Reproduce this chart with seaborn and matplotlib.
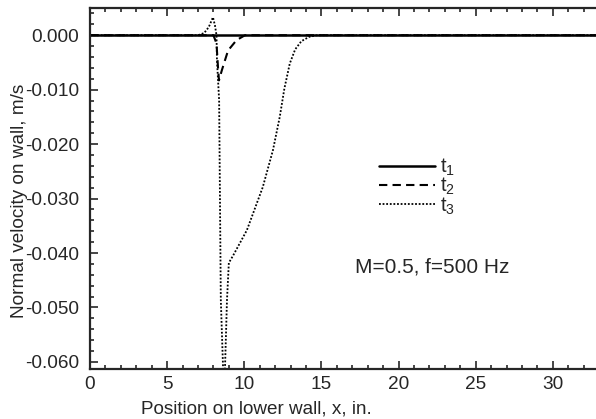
import numpy as np
import pandas as pd
import seaborn as sns
import matplotlib
matplotlib.use("Agg")
import matplotlib.pyplot as plt
from matplotlib.ticker import MultipleLocator

# ---- data ----
t1_x = [0.0, 32.8]
t1_y = [0.0, 0.0]

t2_x = [0.0, 7.6, 8.0, 8.2, 8.3, 8.36, 8.55, 8.95, 9.5, 10.05, 32.8]
t2_y = [0.0, 0.0, 0.0, -0.0015, -0.006, -0.0083, -0.0064, -0.0028, -0.0009, 0.0, 0.0]

t3_x = [0.0, 7.0, 7.4, 7.7, 7.97, 8.1, 8.2, 8.23, 8.37, 8.48, 8.63, 8.75,
        8.88, 9.0, 9.27, 10.17, 11.2, 11.86, 12.3, 12.6, 12.95, 13.3, 13.7, 14.2, 14.7, 32.8]
t3_y = [0.0, 0.0, 0.0004, 0.0015, 0.0033, 0.0018, 0.0, -0.0046, -0.0119, -0.0486, -0.0615, -0.0612,
        -0.0486, -0.0418, -0.0405, -0.0358, -0.0279, -0.0211, -0.015, -0.0098, -0.0052, -0.0026,
        -0.0011, -0.0003, 0.0, 0.0]

labels = ["t$_1$", "t$_2$", "t$_3$"]
styles = ["-", (0, (4, 2.5)), (0, (1, 1))]
x_ticks = [0, 5, 10, 15, 20, 25, 30]
y_ticks = [0.0, -0.01, -0.02, -0.03, -0.04, -0.05, -0.06]
y_ticklabels = ["0.000", "-0.010", "-0.020", "-0.030", "-0.040", "-0.050", "-0.060"]

sns.set_style("ticks")
plt.rcParams["font.family"] = ["Liberation Sans", "DejaVu Sans"]
plt.rcParams["mathtext.fontset"] = "custom"
plt.rcParams["mathtext.rm"] = "Liberation Sans"
plt.rcParams["mathtext.it"] = "Liberation Sans"

fig = plt.figure(figsize=(5.96, 4.19), dpi=100)
ax = fig.add_axes([90 / 596, 50 / 419, 1 - 90 / 596, 361 / 419])

series = [(t1_x, t1_y), (t2_x, t2_y), (t3_x, t3_y)]
widths = [1.8, 1.5, 1.3]
for (xs, ys), lab, ls, lw in zip(series, labels, styles, widths):
    df = pd.DataFrame({"x": xs, "y": ys})
    sns.lineplot(data=df, x="x", y="y", ax=ax, color="black", linestyle=ls,
                 linewidth=lw, estimator=None, sort=False, label=lab)

ax.set_xlim(0, 32.8)
ax.set_ylim(-0.0613, 0.005)
ax.set_xticks(x_ticks)
ax.set_yticks(y_ticks)
ax.set_yticklabels(y_ticklabels)
ax.xaxis.set_minor_locator(MultipleLocator(1))
ax.yaxis.set_minor_locator(MultipleLocator(0.002))
ax.tick_params(which="both", direction="in", top=True, right=False, labelsize=13.7, width=1.2)
ax.tick_params(which="major", length=6)
ax.tick_params(which="minor", length=3)
ax.tick_params(axis="x", pad=5)
ax.tick_params(axis="y", pad=8)
for side in ["left", "bottom", "top"]:
    ax.spines[side].set_linewidth(1.6)
ax.spines["right"].set_visible(False)

ax.set_xlabel("Position on lower wall, x, in.", fontsize=13.6)
ax.set_ylabel("Normal velocity on wall, m/s", fontsize=13.7)
ax.xaxis.set_label_coords((256 - 90) / 506, -0.11, transform=ax.transAxes)
ax.yaxis.set_label_coords(-0.14, 0.466, transform=ax.transAxes)
ax.xaxis.label.set_va("center")
ax.yaxis.label.set_va("center")

leg = ax.legend(loc="upper left", bbox_to_anchor=(0.555, 0.61), frameon=False,
                fontsize=14.5, handlelength=2.8, handletextpad=0.25, labelspacing=-0.1,
                borderaxespad=0)

ax.text(17.2, -0.0425, "M=0.5, f=500 Hz", fontsize=15, ha="left", va="center")

fig.savefig("out.png", dpi=100)
